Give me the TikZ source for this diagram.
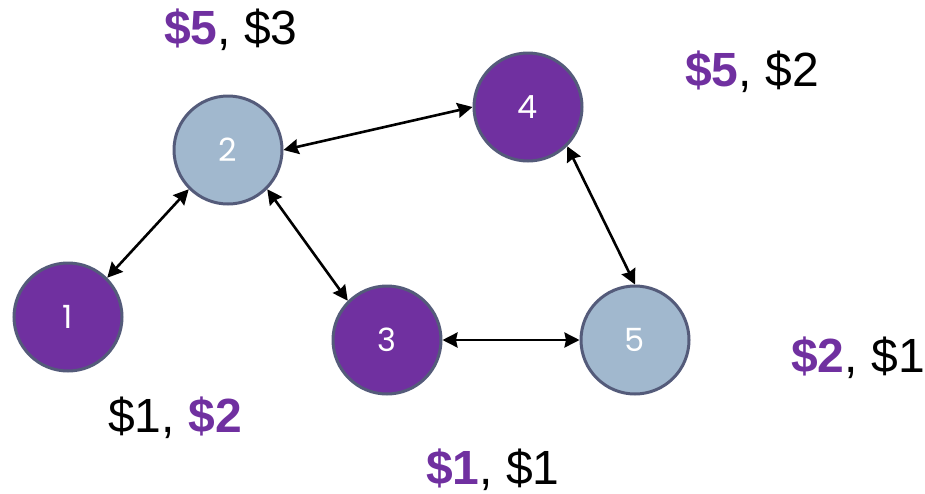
\documentclass[tikz,border=0pt]{standalone}
\usepackage{fontspec}
\setmainfont{Liberation Sans}
\newfontfamily\numfont{Poppins}
\usetikzlibrary{arrows.meta}
\definecolor{vpurple}{HTML}{7030A0}
\definecolor{vblue}{HTML}{A1B8CE}
\definecolor{vrim}{HTML}{545B7A}
\tikzset{
  vertex/.style={circle, minimum size=108pt, inner sep=0pt, line width=3pt, draw=vrim,
    text=white, font=\numfont\fontsize{32}{36}\selectfont},
  dark/.style={vertex, fill=vpurple},
  light/.style={vertex, fill=vblue},
  link/.style={line width=2.6pt, {Stealth[length=15pt,width=15pt,inset=1.5pt]}-{Stealth[length=15pt,width=15pt,inset=1.5pt]}},
  price/.style={inner sep=0pt, font=\fontsize{48}{56}\selectfont}
}
\newcommand{\hi}[1]{\textbf{\textcolor{vpurple}{\$#1}}}
\begin{document}
\begin{tikzpicture}[x=1pt,y=-1pt]
  \useasboundingbox (0,0) rectangle (925,493);
  % vertices
  \node[dark]  (n1) at (68,317)  {1};
  \node[light] (n2) at (228,150) {2};
  \node[dark]  (n3) at (387,340) {3};
  \node[dark]  (n4) at (528,107) {4};
  \node[light] (n5) at (635,340) {5};
  % links
  \draw[link] (n1.north east) -- (n2.south west);
  \draw[link] (n2.south east) -- (n3.north west);
  \draw[link] (n2.east) -- (n4.west);
  \draw[link] (n3.east) -- (n5.west);
  \draw[link] (n4.south east) -- (n5.north);
  % prices
  \node[price] (p2) at (231,30)  {\hi{5}, \$3};
  \node[price] (p4) at (752,72)  {\hi{5}, \$2};
  \node[price] (p1) at (175,418) {\$1, \hi{2}};
  \node[price] (p3) at (493,470) {\hi{1}, \$1};
  \node[price] (p5) at (858,358) {\hi{2}, \$1};
\end{tikzpicture}
\end{document}
